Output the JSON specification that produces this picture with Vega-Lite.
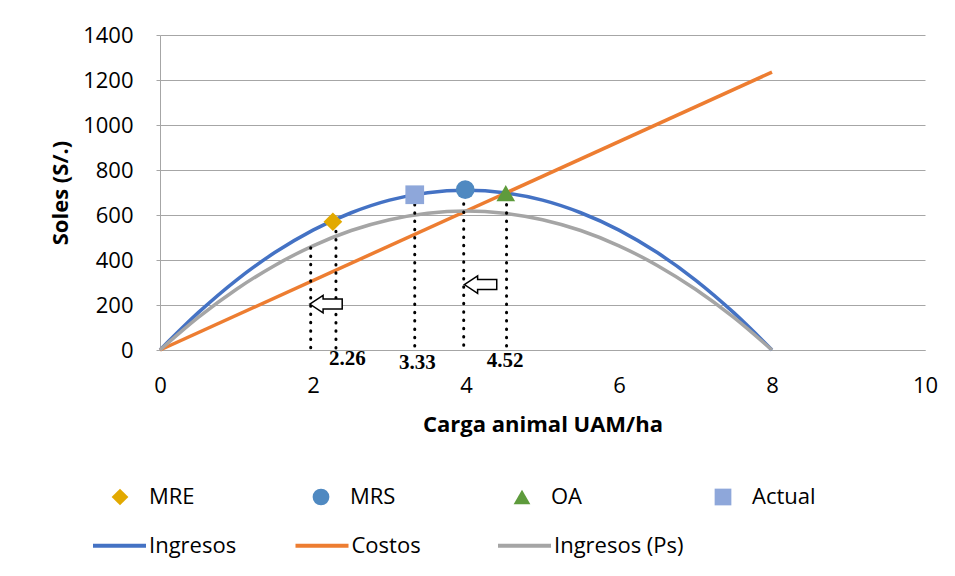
{
  "$schema": "https://vega.github.io/schema/vega-lite/v6.json",
  "width": 765,
  "height": 315,
  "autosize": {"type": "none"},
  "padding": {"left": 160, "top": 35, "right": 30, "bottom": 226},
  "background": "white",
  "config": {
    "font": "Open Sans",
    "view": {"stroke": null},
    "axis": {
      "labelFont": "Open Sans", "labelFontSize": 22, "labelColor": "#000000",
      "titleFont": "Open Sans", "titleFontSize": 22, "titleFontWeight": "bold", "titleColor": "#000000",
      "gridColor": "#A6A6A6", "gridWidth": 1, "domainColor": "#A6A6A6", "tickColor": "#A6A6A6"
    },
    "legend": {
      "labelFont": "Open Sans", "labelFontSize": 22, "labelColor": "#000000", "padding": 0
    }
  },
  "datasets": {
    "curvas": [
      {"serie": "Ingresos", "x": 0, "y": 0}, {"serie": "Ingresos", "x": 0.5, "y": 166}, {"serie": "Ingresos", "x": 1, "y": 311},
      {"serie": "Ingresos", "x": 1.5, "y": 433}, {"serie": "Ingresos", "x": 2, "y": 533}, {"serie": "Ingresos", "x": 2.5, "y": 610},
      {"serie": "Ingresos", "x": 3, "y": 666}, {"serie": "Ingresos", "x": 3.5, "y": 699}, {"serie": "Ingresos", "x": 4, "y": 710},
      {"serie": "Ingresos", "x": 4.5, "y": 699}, {"serie": "Ingresos", "x": 5, "y": 666}, {"serie": "Ingresos", "x": 5.5, "y": 610},
      {"serie": "Ingresos", "x": 6, "y": 533}, {"serie": "Ingresos", "x": 6.5, "y": 433}, {"serie": "Ingresos", "x": 7, "y": 311},
      {"serie": "Ingresos", "x": 7.5, "y": 166}, {"serie": "Ingresos", "x": 8, "y": 0},
      {"serie": "Costos", "x": 0, "y": 0}, {"serie": "Costos", "x": 8, "y": 1235},
      {"serie": "Ingresos (Ps)", "x": 0, "y": 0}, {"serie": "Ingresos (Ps)", "x": 0.5, "y": 145}, {"serie": "Ingresos (Ps)", "x": 1, "y": 270},
      {"serie": "Ingresos (Ps)", "x": 1.5, "y": 376}, {"serie": "Ingresos (Ps)", "x": 2, "y": 463}, {"serie": "Ingresos (Ps)", "x": 2.5, "y": 531},
      {"serie": "Ingresos (Ps)", "x": 3, "y": 579}, {"serie": "Ingresos (Ps)", "x": 3.5, "y": 608}, {"serie": "Ingresos (Ps)", "x": 4, "y": 618},
      {"serie": "Ingresos (Ps)", "x": 4.5, "y": 608}, {"serie": "Ingresos (Ps)", "x": 5, "y": 579}, {"serie": "Ingresos (Ps)", "x": 5.5, "y": 531},
      {"serie": "Ingresos (Ps)", "x": 6, "y": 463}, {"serie": "Ingresos (Ps)", "x": 6.5, "y": 376}, {"serie": "Ingresos (Ps)", "x": 7, "y": 270},
      {"serie": "Ingresos (Ps)", "x": 7.5, "y": 145}, {"serie": "Ingresos (Ps)", "x": 8, "y": 0}
    ],
    "guias": [
      {"x": 1.97, "y": 455}, {"x": 2.3, "y": 528}, {"x": 3.33, "y": 684}, {"x": 3.97, "y": 650}, {"x": 4.53, "y": 684}
    ],
    "flechas": [
      {"x": 2.17, "y": 204}, {"x": 4.19, "y": 291}
    ],
    "puntos": [
      {"punto": "MRE", "x": 2.26, "y": 570}, {"punto": "MRS", "x": 3.99, "y": 713},
      {"punto": "OA", "x": 4.52, "y": 697}, {"punto": "Actual", "x": 3.33, "y": 690}
    ],
    "etiquetas": [
      {"t": "2.26", "x": 2.45, "y": -42}, {"t": "3.33", "x": 3.366, "y": -56}, {"t": "4.52", "x": 4.51, "y": -47}
    ]
  },
  "encoding": {
    "x": {
      "field": "x", "type": "quantitative",
      "scale": {"domain": [0, 10], "nice": false},
      "axis": {"values": [0, 2, 4, 6, 8, 10], "title": "Carga animal UAM/ha", "grid": false, "ticks": false, "labelFlush": false, "labelPadding": 25, "titlePadding": 18}
    },
    "y": {
      "field": "y", "type": "quantitative",
      "scale": {"domain": [0, 1400], "nice": false},
      "axis": {"values": [0, 200, 400, 600, 800, 1000, 1200, 1400], "format": "d", "title": "Soles (S/.)", "grid": true, "ticks": true, "tickSize": 4, "labelPadding": 23, "titlePadding": 10}
    }
  },
  "layer": [
    {
      "data": {"name": "curvas"},
      "mark": {"type": "line", "interpolate": "monotone", "strokeWidth": 3.5},
      "encoding": {
        "color": {
          "field": "serie", "type": "nominal",
          "scale": {"domain": ["Ingresos", "Costos", "Ingresos (Ps)"], "range": ["#4472C4", "#ED7D31", "#A5A5A5"]},
          "legend": {
            "title": null, "orient": "none", "legendX": -69, "legendY": 482, "direction": "horizontal", "columns": 3,
            "symbolType": "stroke", "symbolSize": 2809, "symbolStrokeWidth": 4, "labelOffset": 1, "columnPadding": 8.5, "gridAlign": "all"
          }
        },
        "order": {"field": "x", "type": "quantitative"}
      }
    },
    {
      "data": {"name": "guias"},
      "mark": {"type": "rule", "color": "#000000", "strokeWidth": 3, "strokeDash": [0.5, 7.8], "strokeCap": "round"},
      "encoding": {"y2": {"datum": 0}}
    },
    {
      "data": {"name": "flechas"},
      "mark": {
        "type": "point", "shape": "M -1 0 L -0.18 -0.54 L -0.18 -0.31 L 1 -0.31 L 1 0.31 L -0.18 0.31 L -0.18 0.54 Z",
        "size": 1050, "filled": true, "fill": "#FFFFFF", "stroke": "#000000", "strokeWidth": 1.5, "opacity": 1
      }
    },
    {
      "data": {"name": "puntos"},
      "mark": {"type": "point", "filled": true, "size": 350, "opacity": 1},
      "encoding": {
        "color": {
          "field": "punto", "type": "nominal",
          "scale": {"domain": ["MRE", "MRS", "OA", "Actual"], "range": ["#E2A900", "#4F89C1", "#5E9B3C", "#8EA7DA"]},
          "legend": {
            "title": null, "orient": "none", "legendX": -51, "legendY": 451, "direction": "horizontal", "columns": 4,
            "symbolSize": 280, "labelOffset": 18, "columnPadding": 97, "gridAlign": "all"
          }
        },
        "shape": {
          "field": "punto", "type": "nominal",
          "scale": {"domain": ["MRE", "MRS", "OA", "Actual"], "range": ["diamond", "circle", "triangle-up", "square"]},
          "legend": {
            "title": null, "orient": "none", "legendX": -51, "legendY": 451, "direction": "horizontal", "columns": 4,
            "symbolSize": 280, "labelOffset": 18, "columnPadding": 97, "gridAlign": "all"
          }
        }
      }
    },
    {
      "data": {"name": "etiquetas"},
      "mark": {"type": "text", "font": "Liberation Serif", "fontWeight": "bold", "fontSize": 21, "align": "center", "baseline": "middle", "color": "#000000"},
      "encoding": {"text": {"field": "t", "type": "nominal"}}
    }
  ],
  "resolve": {"scale": {"color": "independent", "shape": "independent"}}
}
